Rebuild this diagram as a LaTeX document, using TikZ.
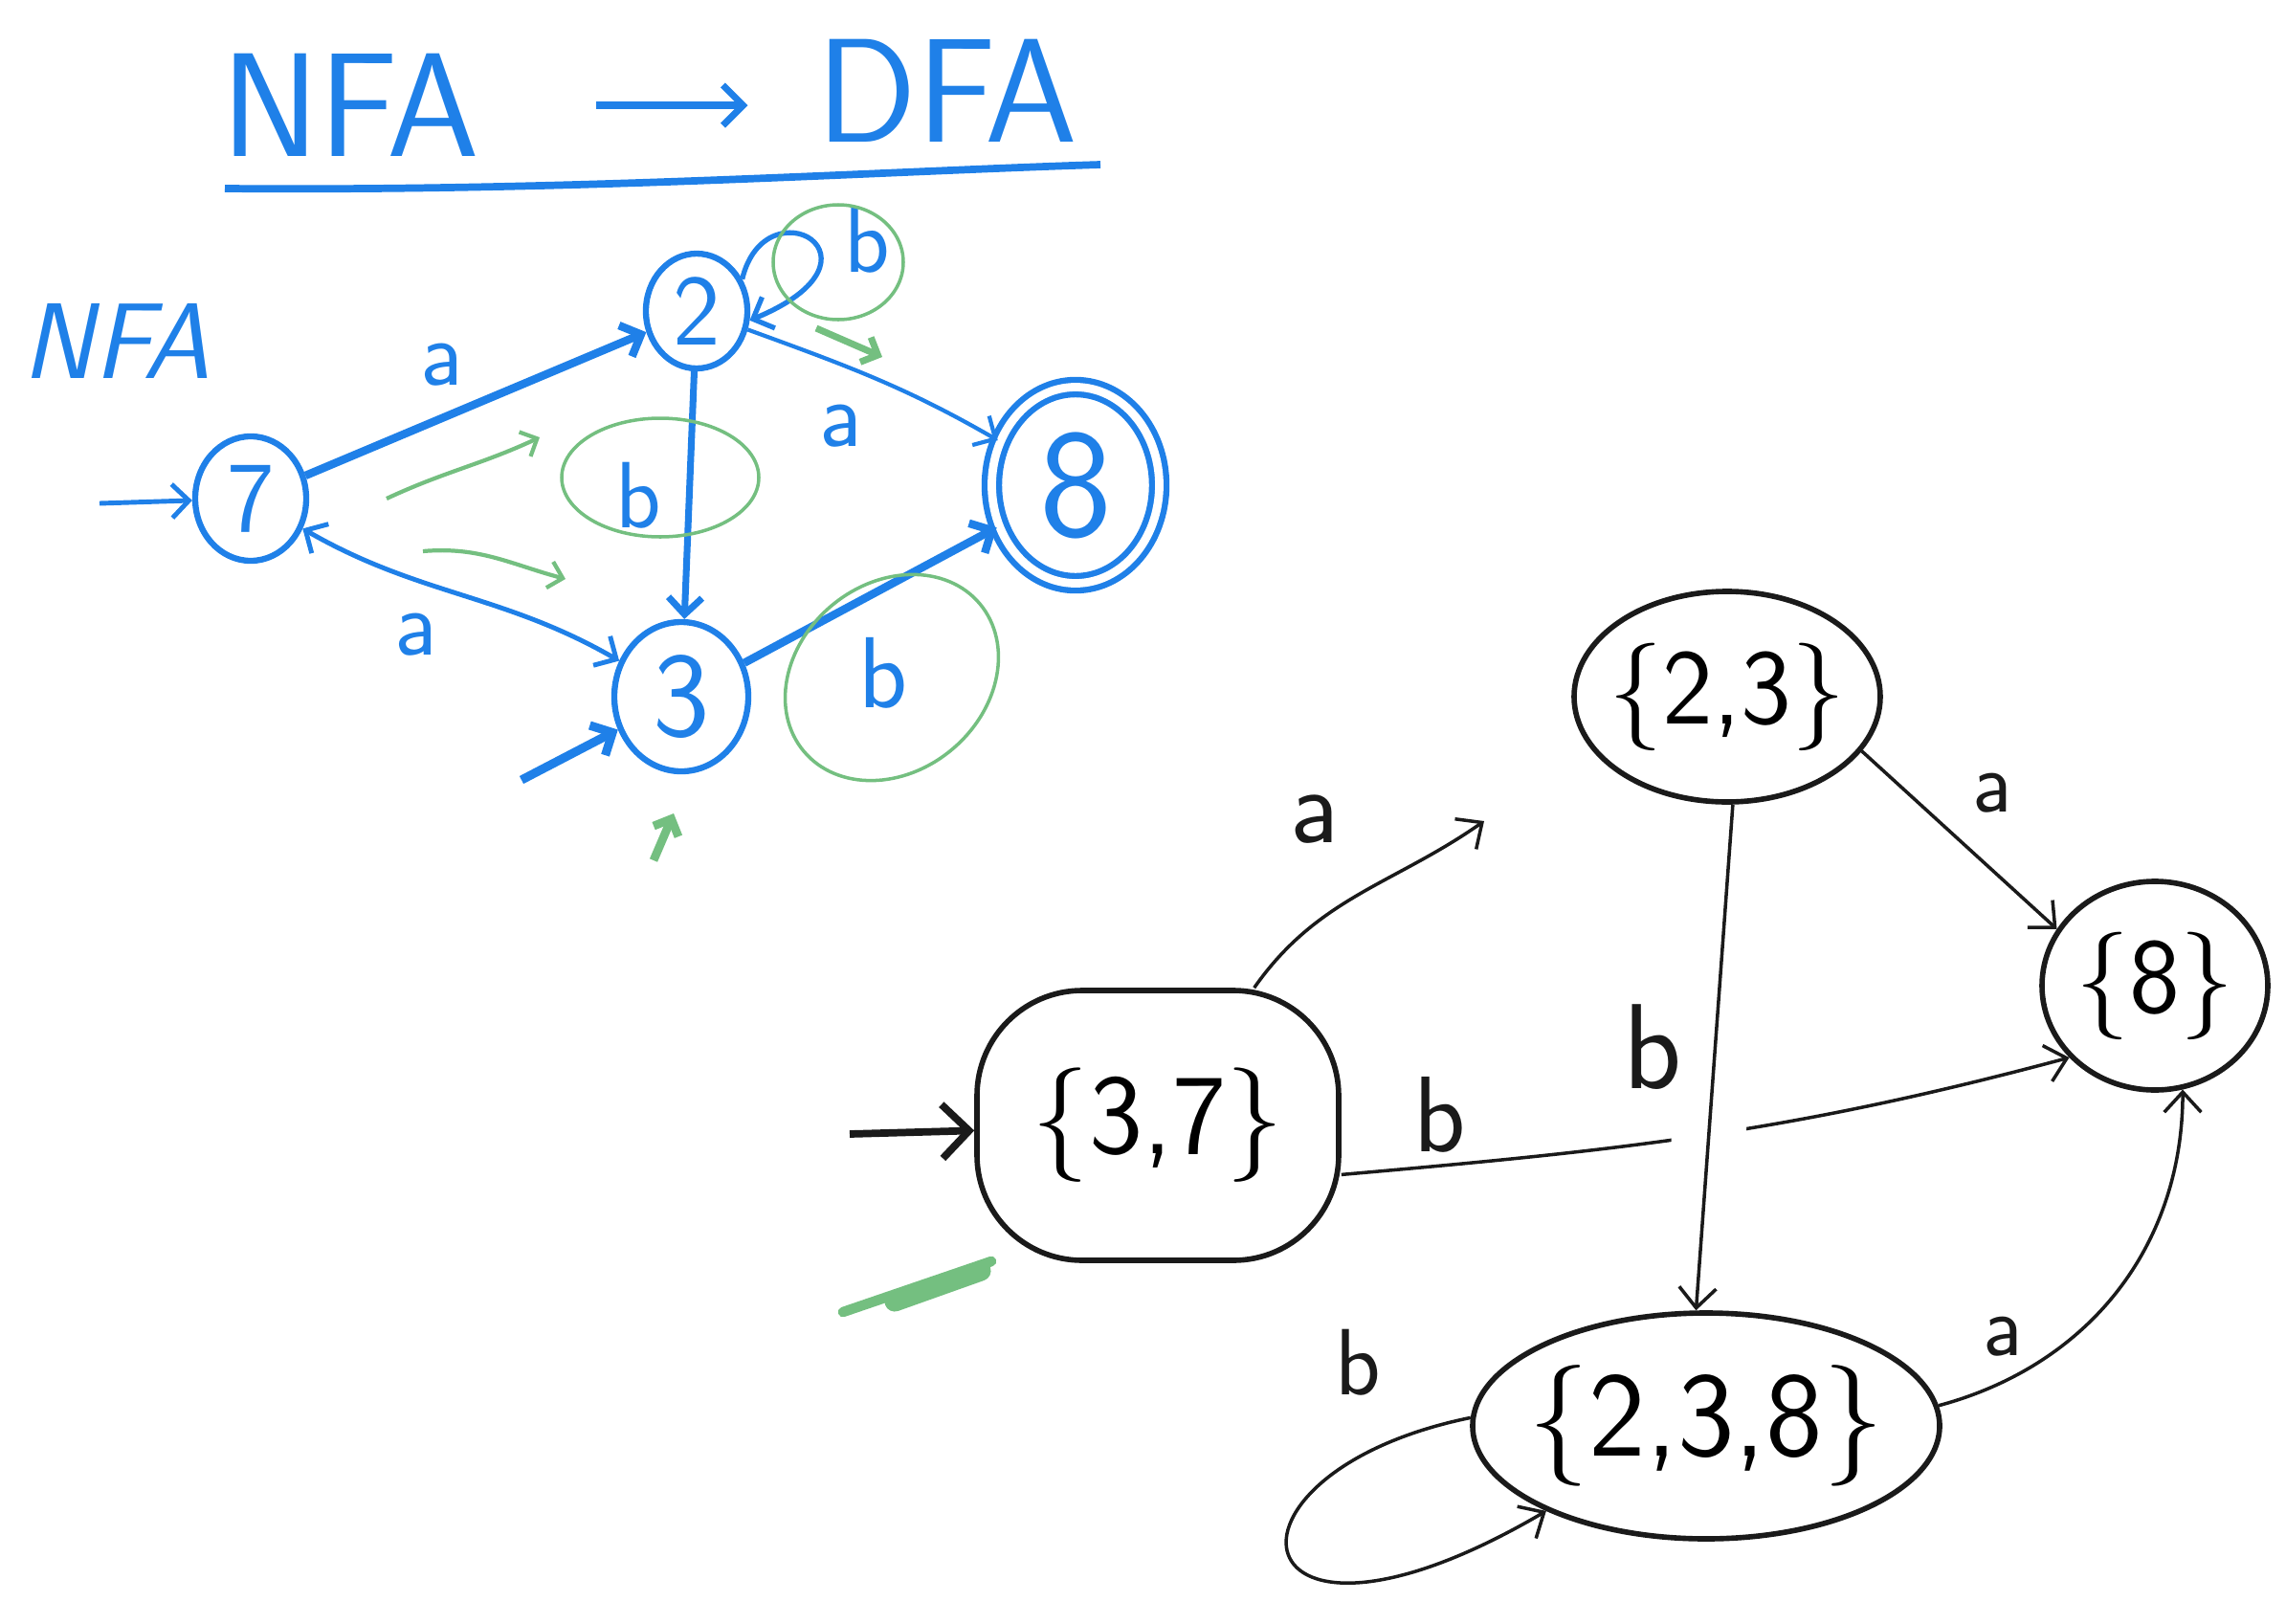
\documentclass[tikz,border=0pt]{standalone}
\usepackage{tikz}
\usetikzlibrary{arrows.meta,calc,positioning,shapes.geometric}
\usepackage{xcolor}
\definecolor{penblue}{HTML}{1F80E8}
\definecolor{pengreen}{HTML}{74BF80}
\definecolor{penblack}{HTML}{1A1A1A}
\newcommand{\hand}[1]{\fontsize{#1}{#1}\selectfont\sffamily}

\tikzset{
  nstate/.style={ellipse, draw=penblue, line width=1.8pt, inner sep=0pt, text=penblue},
  nedge/.style={penblue, line width=1.4pt, -{Straight Barb[length=5pt,width=10pt]}},
  nlabel/.style={text=penblue, font=\hand{28pt}},
  gmark/.style={pengreen, line width=1pt},
  garrow/.style={pengreen, line width=1.2pt, -{Straight Barb[length=4pt,width=8pt]}},
  dstate/.style={ellipse, draw=penblack, line width=1.6pt, inner xsep=-8pt, inner ysep=0pt},
  dedge/.style={penblack, line width=1pt, -{Straight Barb[length=6pt,width=11pt]}},
  dlabel/.style={text=penblack, font=\hand{32pt}},
}

\begin{document}
\begin{tikzpicture}
  \useasboundingbox (0,0) rectangle (23.89,-16.97);
  % Title
  \node[font=\hand{44pt}, text=penblue] (ttlnfa) at (3.66,-1.10) {NFA};
  \node[font=\hand{44pt}, text=penblue] (ttldfa) at (9.90,-0.95) {DFA};
  \draw[penblue, line width=2pt, -{Straight Barb[length=6pt,width=12pt]},
        shorten <=1.1cm, shorten >=0.6cm] (ttlnfa.east) -- (ttlnfa.east -| ttldfa.west);
  \draw[penblue, line width=2.2pt] (2.35,-1.97) .. controls (6,-2.0) and (9,-1.8) .. (11.50,-1.72);

  % NFA
  \node[font=\hand{32pt}\itshape, text=penblue] (nfaname) at (1.22,-3.56) {NFA};
  \node[nstate, minimum width=1.16cm, minimum height=1.3cm, font=\hand{30pt}] (n7) at (2.62,-5.21) {7};
  \node[nstate, minimum width=1.06cm, minimum height=1.2cm, font=\hand{30pt}] (n2) at (7.28,-3.25) {2};
  \node[nstate, minimum width=1.4cm, minimum height=1.56cm, font=\hand{36pt}] (n3) at (7.12,-7.28) {3};
  \node[nstate, minimum width=1.75cm, minimum height=2.05cm, double, double distance=2.5pt,
        font=\hand{46pt}] (n8) at (11.24,-5.07) {8};
  \coordinate (n7in) at (1.04,-5.26);
  \coordinate (n3in) at (5.45,-8.15);
  \draw[nedge] (n7in) -- (n7);
  \draw[nedge, line width=2.6pt] (n3in) -- (n3);
  \draw[nedge, line width=2.4pt] (n7) -- node[nlabel, pos=0.4, above=5pt] (la72) {a} (n2);
  \draw[nedge, {Straight Barb[length=5pt,width=10pt]}-{Straight Barb[length=5pt,width=10pt]}]
    (n7) to[out=-30, in=150] node[nlabel, pos=0.35, below=6pt] (la73) {a} (n3);
  \draw[nedge, line width=2pt] (n2) -- node[nlabel, left=4pt] (lb23n) {b} (n3);
  \draw[nedge, line width=1.2pt] (n2) to[out=-20, in=150] node[nlabel, pos=0.35, below=8pt] (la28) {a} (n8);
  \draw[nedge, line width=2.4pt] (n3) -- node[nlabel, font=\hand{30pt}, pos=0.55, below=10pt] (lb38) {b} (n8);
  \draw[nedge, line width=1.5pt] (n2.35) .. controls (8.0,-1.9) and (9.4,-2.7) ..
    node[nlabel, pos=0.5, right=6pt] (lb22) {b} (n2.-10);

  % green marks
  \draw[gmark] (6.90,-4.99) ellipse (1.03 and 0.62);
  \draw[gmark, rotate around={40:(9.32,-7.08)}] (9.32,-7.08) ellipse (1.2 and 0.98);
  \draw[gmark] (8.76,-2.74) ellipse (0.68 and 0.6);
  \draw[garrow] (4.04,-5.21) to[out=25, in=205] (5.64,-4.57);
  \draw[garrow] (4.42,-5.76) to[out=5, in=165] (5.91,-6.05);
  \draw[garrow, line width=2pt] (8.53,-3.43) -- (9.22,-3.73);
  \draw[garrow, line width=2.5pt] (6.83,-8.99) -- (7.04,-8.50);
  \draw[pengreen, line width=3pt, line cap=round] (8.81,-13.71) -- (10.36,-13.18);
  \draw[pengreen, line width=6pt, line cap=round] (9.35,-13.60) -- (10.25,-13.28);

  % DFA
  \node[dstate, minimum width=3.2cm, minimum height=2.2cm, font=\hand{32pt}] (d23) at (18.05,-7.28) {\{2,3\}};
  \node[dstate, minimum width=2.36cm, minimum height=2.18cm, font=\hand{32pt}] (d8) at (22.52,-10.30) {\{8\}};
  \node[rectangle, rounded corners=1.1cm, draw=penblack, line width=1.6pt, inner sep=0pt,
        minimum width=3.78cm, minimum height=2.82cm, font=\hand{34pt}] (d37) at (12.10,-11.76) {\{3,7\}};
  \node[dstate, minimum width=4.88cm, minimum height=2.36cm, font=\hand{36pt}] (d238) at (17.83,-14.90) {\{2,3,8\}};
  \coordinate (d37in) at (8.88,-11.85);
  \coordinate (d37a) at (15.51,-8.58);
  \draw[penblack, line width=2.2pt, -{Straight Barb[length=8pt,width=16pt]}] (d37in) -- (d37);
  \draw[dedge] (d37) to[out=55, in=-145] node[dlabel, pos=0.3, above=0.7cm] (la37) {a} (d37a);
  \draw[dedge] (d37.-15) to[out=5, in=195] node[dlabel, pos=0.12, above=0pt] (lb378) {b} (d8.220);
  \draw[dedge, preaction={draw=white, line width=22pt, shorten <=3.3cm, shorten >=1.3cm, -}]
    (d23.-87) -- node[dlabel, font=\hand{36pt}, pos=0.48, left=6pt] (lb23) {b} (d238.95);
  \draw[dedge] (d23.-22) -- node[dlabel, font=\hand{26pt}, pos=0.5, above right=0.15cm and 0cm] (la238) {a} (d8.150);
  \draw[dedge] (d238.5) to[out=15, in=-90] node[dlabel, font=\hand{26pt}, pos=0.15, above=4pt] (la2388) {a} (d8.-75);
  \draw[dedge] (d238.178) .. controls (12.5,-15.4) and (12.9,-17.7) ..
    node[dlabel, font=\hand{28pt}, pos=0.05, above left=0.2cm and 0.4cm] (lb238) {b} (d238.208);
\end{tikzpicture}
\end{document}
